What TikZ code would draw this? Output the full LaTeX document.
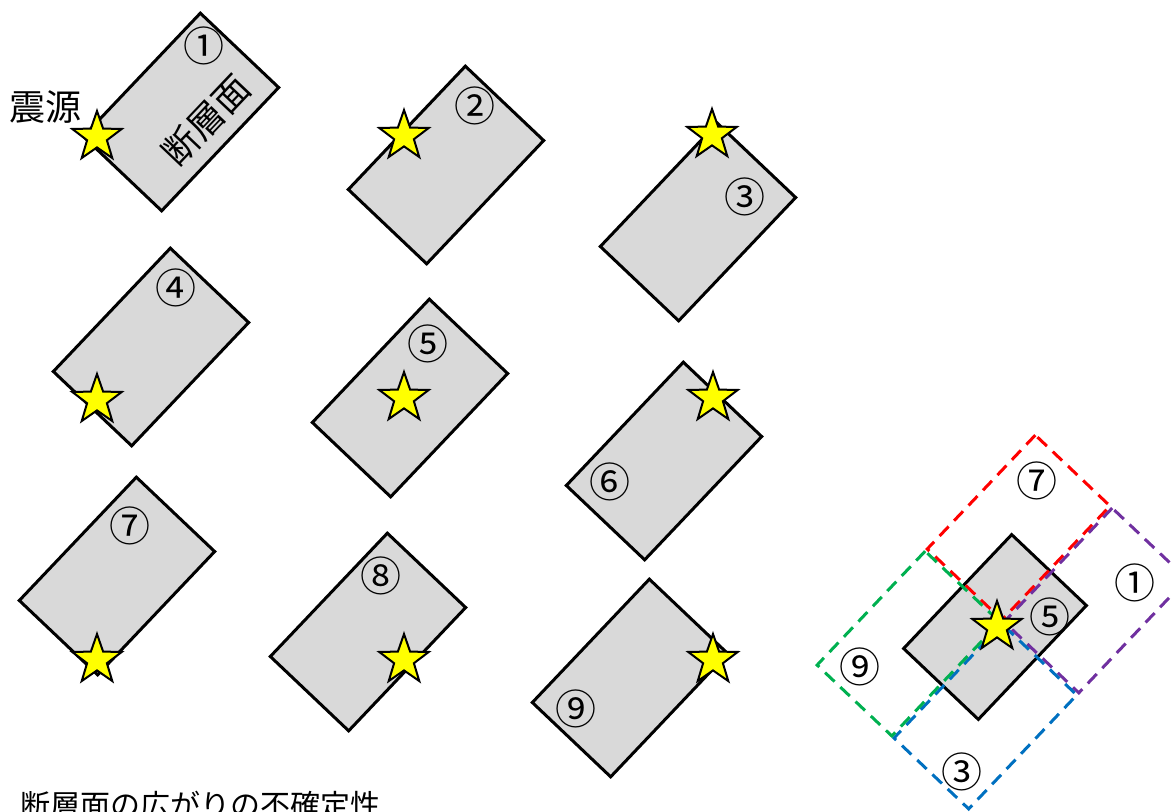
\documentclass[tikz,border=0pt]{standalone}
\usepackage{fontspec}
\setmainfont{Noto Sans CJK JP}
\usepackage{tikz}
\usetikzlibrary{shapes.geometric}
\definecolor{fltgray}{HTML}{D9D9D9}
\definecolor{epiyel}{HTML}{FFFF00}
\definecolor{altred}{HTML}{FF0000}
\definecolor{altpurple}{HTML}{7030A0}
\definecolor{altblue}{HTML}{0070C0}
\definecolor{altgreen}{HTML}{00B050}

\begin{document}
\begin{tikzpicture}[x=1pt,y=-1pt,font=\fontsize{30}{34}\selectfont,
  fault/.style={draw=black,fill=fltgray,line width=3pt,rotate=46.5,inner sep=0pt,
    minimum width=170pt,minimum height=108pt},
  smallfault/.style={fault,minimum width=157pt,minimum height=103pt},
  alt/.style={draw=#1,line width=3pt,dash pattern=on 13pt off 8pt,rotate=46.5,inner sep=0pt,
    minimum width=157pt,minimum height=103pt},
  epi/.style={star,star points=5,star point ratio=2.5,draw=black,fill=epiyel,
    line width=2pt,minimum size=52pt,inner sep=0pt},
  num/.style={inner sep=0pt,font=\fontsize{41}{45}\selectfont},
  jtext/.style={inner sep=0pt,font=\fontsize{36}{40}\selectfont}]
  \clip (0,0) rectangle (1172,811);
  % the nine cases
  \foreach \n/\x/\y in {1/181/112,2/446/165,3/698/222,4/151/347,5/410/398,6/664/461,7/117/576,8/368/632,9/630/678}
    \node[fault] (f\n) at (\x,\y) {};
  \node[jtext,rotate=46.5] (fname) at (206,120) {断層面};
  % hypocentres
  \foreach \n/\x/\y in {1/97/137,2/404/136,3/712/135,4/97/400,5/404/398,6/713/398,7/97/660,8/404/660,9/713/660}
    \node[epi] (s\n) at (\x,\y) {};
  \node[jtext,anchor=east] (hypo) at (82,107) {震源};
  \foreach \n/\lab/\x/\y in {1/①/204/46,2/②/475/106,3/③/745/197,4/④/176/288,5/⑤/428/344,6/⑥/610/482,7/⑦/130/526,8/⑧/381/576,9/⑨/576/709}
    \node[num] (l\n) at (\x,\y) {\lab};
  % overlay of the shifted planes
  \coordinate (hc) at (1002,622);
  \node[smallfault] (c5) at (995,627) {};
  \node[alt=altred,anchor=south west] (c7) at (hc) {};
  \node[alt=altpurple,anchor=north west] (c1) at (hc) {};
  \node[alt=altblue,anchor=north east] (c3) at (hc) {};
  \node[alt=altgreen,anchor=south east] (c9) at (hc) {};
  \node[epi] (cs) at (997,627) {};
  \foreach \n/\lab/\x/\y in {7/⑦/1037/481,1/①/1135/583,5/⑤/1050/617,9/⑨/860/667,3/③/962/772}
    \node[num] (cl\n) at (\x,\y) {\lab};
  \node[inner sep=0pt,anchor=base west] (caption) at (20,816) {断層面の広がりの不確定性};
\end{tikzpicture}
\end{document}
